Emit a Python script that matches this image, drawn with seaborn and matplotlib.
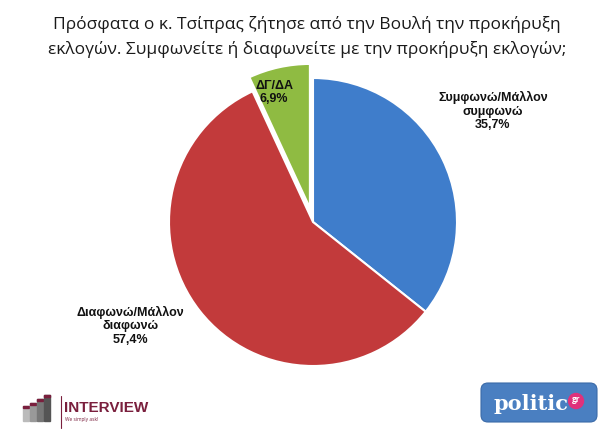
import matplotlib
matplotlib.use('Agg')
import matplotlib.pyplot as plt
import seaborn as sns
from matplotlib.patches import FancyBboxPatch, Rectangle, Circle

sns.set_style('white')
plt.rcParams['font.family'] = ['Open Sans', 'DejaVu Sans']

categories = ['Συμφωνώ/Μάλλον\nσυμφωνώ', 'Διαφωνώ/Μάλλον\nδιαφωνώ', 'ΔΓ/ΔΑ']
values = [35.7, 57.4, 6.9]
colors = ['#3f7dcb', '#c23a3b', '#8fbb42']
explode = [0, 0, 0.1]
label_pos = [(1.25, 0.77), (-1.27, -0.72), (-0.27, 0.9)]

title = ('Πρόσφατα ο κ. Τσίπρας ζήτησε από την Βουλή την προκήρυξη\n'
         'εκλογών. Συμφωνείτε ή διαφωνείτε με την προκήρυξη εκλογών;')

W, H = 614, 446
fig = plt.figure(figsize=(W / 100, H / 100), dpi=100)
fig.patch.set_facecolor('white')

cx, cy, r = 313, 222, 144
ax = fig.add_axes([(cx - r) / W, (H - cy - r) / H, 2 * r / W, 2 * r / H])
ax.pie(values, colors=colors, explode=explode, startangle=90,
       counterclock=False, wedgeprops=dict(edgecolor='white', linewidth=1.5))
ax.set_xlim(-1, 1)
ax.set_ylim(-1, 1)
ax.set_aspect('auto')
ax.axis('off')

for cat, val, (lx, ly) in zip(categories, values, label_pos):
    txt = f'{cat}\n{val:.1f}%'.replace('.', ',')
    ax.text(lx, ly, txt, ha='center', va='center', fontsize=9,
            fontweight='bold', family=['Liberation Sans', 'DejaVu Sans'],
            color='#111111', linespacing=1.15, clip_on=False)

fig.text(0.5, 1 - 37 / H, title, ha='center', va='center', fontsize=12.5,
         color='#1a1a1a', linespacing=1.6)

# INTERVIEW logo
lg = fig.add_axes([0, 0, 1, 1], zorder=-1)
lg.set_xlim(0, W)
lg.set_ylim(H, 0)
lg.axis('off')
for i, (x0, h) in enumerate([(23, 15), (30, 18), (37, 22), (44, 26)]):
    lg.add_patch(Rectangle((x0, 421 - h), 6, h, color=['#bbbbbb', '#999999', '#777777', '#555555'][i]))
    lg.add_patch(Rectangle((x0, 421 - h), 6, 2, color='#7a1f3d'))
lg.plot([61, 61], [396, 428], color='#7a1f3d', lw=0.8)
lg.text(64, 408, 'INTERVIEW', fontsize=11, fontweight='bold', color='#7a1f3d',
        va='center', ha='left', family=['Liberation Sans', 'DejaVu Sans'])
lg.text(65, 419, 'We simply ask!', fontsize=3.5, color='#7a1f3d', va='center', ha='left')

# politic logo
lg.add_patch(FancyBboxPatch((481, 383), 116, 39, boxstyle='round,pad=0,rounding_size=7',
                            facecolor='#4a7fc1', edgecolor='#3a6aa8', lw=0.8))
lg.text(531, 404, 'politic', fontsize=15, fontweight='bold', color='white',
        family=['DejaVu Serif'], va='center', ha='center')
lg.add_patch(Circle((576, 401), 7.5, color='#e0317b'))
lg.text(576, 400, 'gr', fontsize=6, color='white', fontweight='bold', va='center', ha='center')

fig.savefig('out.png', dpi=100, facecolor='white')
